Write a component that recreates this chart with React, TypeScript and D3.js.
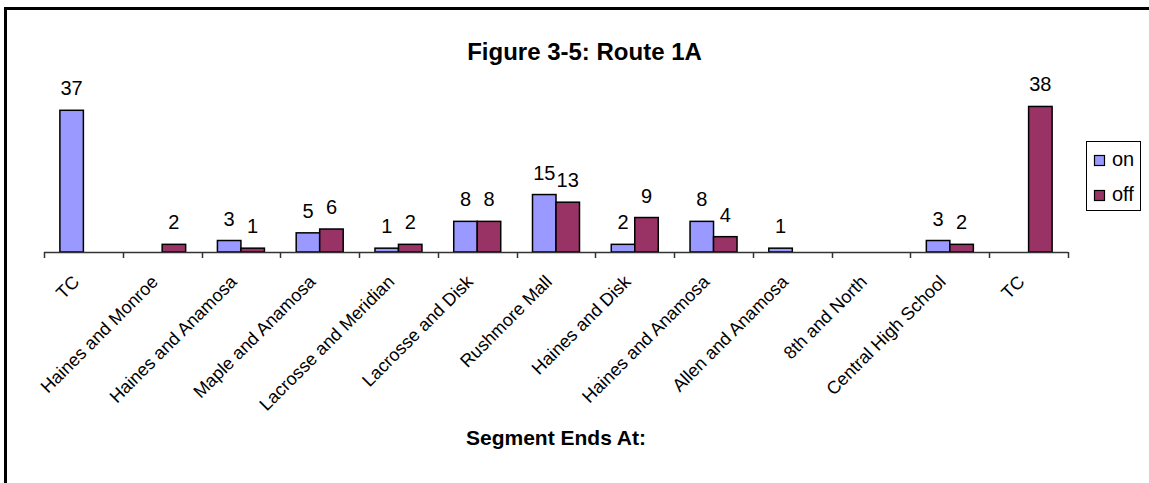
import React, { useRef, useEffect } from "react";
import * as d3 from "d3";

const width = 1149;
const height = 483;

const categories = [
  "TC",
  "Haines and Monroe",
  "Haines and Anamosa",
  "Maple and Anamosa",
  "Lacrosse and Meridian",
  "Lacrosse and Disk",
  "Rushmore Mall",
  "Haines and Disk",
  "Haines and Anamosa",
  "Allen and Anamosa",
  "8th and North",
  "Central High School",
  "TC",
];
const onValues = [37, 0, 3, 5, 1, 8, 15, 2, 8, 1, 0, 3, 0];
const offValues = [0, 2, 1, 6, 2, 8, 13, 9, 4, 0, 0, 2, 38];
const seriesNames = ["on", "off"];
const colors = ["#9999FF", "#993366"];

const font = "'Liberation Sans', Arial, sans-serif";

const App = () => {
  const ref = useRef(null);

  useEffect(() => {
    if (!ref.current) return;
    const svg = d3.select(ref.current);
    svg.selectAll("*").remove();

    const plot = { left: 44, right: 1068, top: 98.8, bottom: 252 };

    // one index per category (labels repeat, so band by index)
    const x = d3
      .scaleBand()
      .domain(categories.map((_, i) => String(i)))
      .range([plot.left, plot.right])
      .paddingInner(0)
      .paddingOuter(0);

    const xs = d3
      .scaleBand()
      .domain(seriesNames)
      .range([0, x.bandwidth()])
      .paddingInner(0)
      .paddingOuter(0.676);

    const y = d3.scaleLinear().domain([0, 40]).range([plot.bottom, plot.top]);

    const series = [onValues, offValues];

    // outer chart border
    svg
      .append("rect")
      .attr("x", 5.5)
      .attr("y", 8.5)
      .attr("width", 1300)
      .attr("height", 600)
      .attr("fill", "white")
      .attr("stroke", "black")
      .attr("stroke-width", 3);

    svg
      .append("text")
      .attr("x", 584.5)
      .attr("y", 60)
      .attr("text-anchor", "middle")
      .style("font", `bold 24px ${font}`)
      .text("Figure 3-5: Route 1A");

    const bars = svg.append("g");
    series.forEach((vals, s) => {
      bars
        .append("g")
        .selectAll("rect")
        .data(vals.map((v, i) => ({ v, i })).filter((d) => d.v > 0))
        .join("rect")
        .attr("x", (d) => x(String(d.i)) + xs(seriesNames[s]))
        .attr("y", (d) => y(d.v))
        .attr("width", xs.bandwidth())
        .attr("height", (d) => y(0) - y(d.v))
        .attr("fill", colors[s])
        .attr("stroke", "black")
        .attr("stroke-width", 1.5);

      bars
        .append("g")
        .selectAll("text")
        .data(vals.map((v, i) => ({ v, i })).filter((d) => d.v > 0))
        .join("text")
        .attr("x", (d) => x(String(d.i)) + xs(seriesNames[s]) + xs.bandwidth() / 2)
        .attr("y", (d) => y(d.v) - 15)
        .attr("text-anchor", "middle")
        .style("font", `20px ${font}`)
        .text((d) => d.v);
    });

    // category axis
    const axis = svg.append("g");
    axis
      .append("line")
      .attr("x1", plot.left)
      .attr("x2", plot.right)
      .attr("y1", plot.bottom + 0.5)
      .attr("y2", plot.bottom + 0.5)
      .attr("stroke", "#333")
      .attr("stroke-width", 1.5);
    axis
      .selectAll("line.tick")
      .data(d3.range(categories.length + 1))
      .join("line")
      .attr("class", "tick")
      .attr("x1", (i) => Math.round(plot.left + i * x.step()) + 0.5)
      .attr("x2", (i) => Math.round(plot.left + i * x.step()) + 0.5)
      .attr("y1", plot.bottom)
      .attr("y2", plot.bottom + 6)
      .attr("stroke", "#333")
      .attr("stroke-width", 1.5);

    axis
      .selectAll("text")
      .data(categories.map((c, i) => ({ c, i })))
      .join("text")
      .attr(
        "transform",
        (d) => `translate(${x(String(d.i)) + x.bandwidth() / 2 - 3},283) rotate(-45)`
      )
      .attr("text-anchor", "end")
      .style("font", `18px ${font}`)
      .text((d) => d.c);

    svg
      .append("text")
      .attr("x", (plot.left + plot.right) / 2)
      .attr("y", 445)
      .attr("text-anchor", "middle")
      .style("font", `bold 21px ${font}`)
      .text("Segment Ends At:");

    // legend
    const legend = svg.append("g");
    legend
      .append("rect")
      .attr("x", 1086.5)
      .attr("y", 141.5)
      .attr("width", 54)
      .attr("height", 69)
      .attr("fill", "white")
      .attr("stroke", "black")
      .attr("stroke-width", 1);
    seriesNames.forEach((name, s) => {
      legend
        .append("rect")
        .attr("x", 1094.5)
        .attr("y", 155.5 + s * 35)
        .attr("width", 10)
        .attr("height", 10)
        .attr("fill", colors[s])
        .attr("stroke", "black")
        .attr("stroke-width", 1.2);
      legend
        .append("text")
        .attr("x", 1112)
        .attr("y", 166 + s * 35)
        .style("font", `20px ${font}`)
        .text(name);
    });
  }, []);

  return (
    <svg
      ref={ref}
      width={width}
      height={height}
      style={{ position: "absolute", left: 0, top: 0, display: "block" }}
    />
  );
};

export default App;
